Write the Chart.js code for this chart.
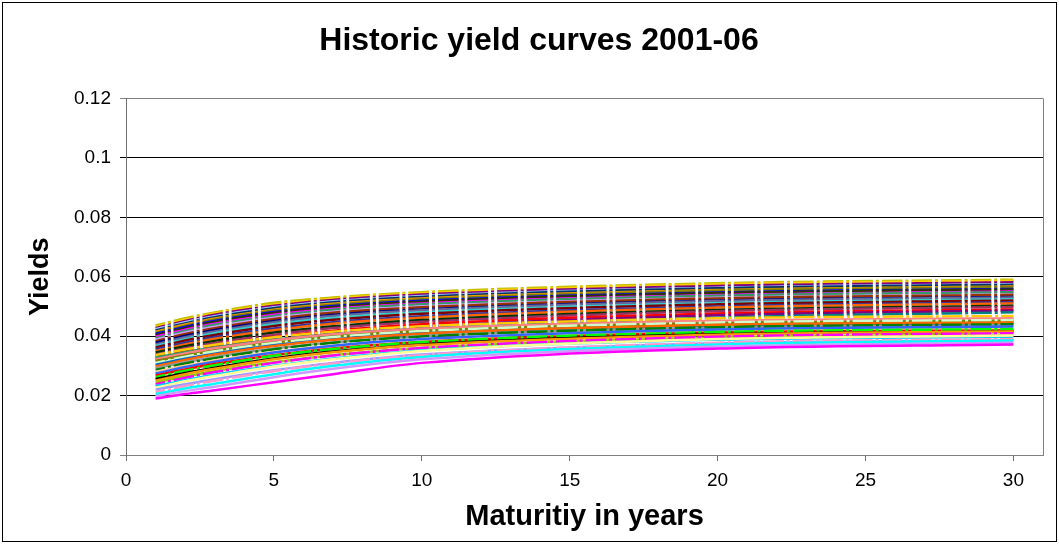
<!DOCTYPE html>
<html>
<head>
<meta charset="utf-8">
<title>Historic yield curves 2001-06</title>
<script src="https://cdn.jsdelivr.net/npm/chart.js@4.4.1/dist/chart.umd.min.js"></script>
<style>
  html, body { margin: 0; padding: 0; background: #fff; }
</style>
</head>
<body>
<canvas id="yieldChart" width="1059" height="544"></canvas>
<script>
// maturities (years) the curves are read at
var maturities = [1, 2, 3, 5, 7, 10, 20, 30];

// curves, one row per curve, lowest first
var yields2001 = [
  [0.0190, 0.0205, 0.0218, 0.0245, 0.0272, 0.0310, 0.0358, 0.0372],
  [0.0198, 0.0215, 0.0230, 0.0262, 0.0290, 0.0322, 0.0365, 0.0378],
  [0.0205, 0.0224, 0.0240, 0.0272, 0.0300, 0.0330, 0.0372, 0.0385],
  [0.0212, 0.0232, 0.0250, 0.0282, 0.0308, 0.0336, 0.0378, 0.0390],
  [0.0220, 0.0238, 0.0255, 0.0285, 0.0310, 0.0338, 0.0376, 0.0386],
  [0.0226, 0.0248, 0.0266, 0.0298, 0.0322, 0.0350, 0.0390, 0.0402],
  [0.0232, 0.0252, 0.0270, 0.0300, 0.0325, 0.0352, 0.0388, 0.0398],
  [0.0238, 0.0260, 0.0279, 0.0310, 0.0335, 0.0360, 0.0398, 0.0410]
];
var yields2002 = [
  [0.0244, 0.0264, 0.0282, 0.0312, 0.0336, 0.0360, 0.0395, 0.0405],
  [0.0250, 0.0272, 0.0290, 0.0322, 0.0346, 0.0370, 0.0405, 0.0416],
  [0.0256, 0.0276, 0.0294, 0.0325, 0.0348, 0.0372, 0.0406, 0.0415],
  [0.0262, 0.0284, 0.0302, 0.0334, 0.0357, 0.0380, 0.0414, 0.0424],
  [0.0268, 0.0288, 0.0306, 0.0336, 0.0358, 0.0380, 0.0412, 0.0420],
  [0.0274, 0.0296, 0.0314, 0.0345, 0.0368, 0.0390, 0.0422, 0.0432],
  [0.0280, 0.0300, 0.0318, 0.0347, 0.0368, 0.0390, 0.0420, 0.0428],
  [0.0286, 0.0308, 0.0326, 0.0356, 0.0378, 0.0399, 0.0430, 0.0440]
];
var yields2003 = [
  [0.0292, 0.0312, 0.0330, 0.0358, 0.0379, 0.0400, 0.0428, 0.0436],
  [0.0298, 0.0320, 0.0338, 0.0367, 0.0388, 0.0408, 0.0438, 0.0446],
  [0.0304, 0.0324, 0.0341, 0.0369, 0.0389, 0.0409, 0.0436, 0.0443],
  [0.0310, 0.0331, 0.0349, 0.0377, 0.0397, 0.0417, 0.0446, 0.0454],
  [0.0316, 0.0335, 0.0351, 0.0378, 0.0398, 0.0417, 0.0443, 0.0450],
  [0.0322, 0.0342, 0.0359, 0.0386, 0.0406, 0.0425, 0.0452, 0.0460],
  [0.0328, 0.0346, 0.0362, 0.0388, 0.0407, 0.0425, 0.0450, 0.0456],
  [0.0336, 0.0355, 0.0371, 0.0396, 0.0415, 0.0433, 0.0460, 0.0468]
];
var yields2004 = [
  [0.0318, 0.0336, 0.0352, 0.0378, 0.0400, 0.0422, 0.0462, 0.0480],
  [0.0325, 0.0344, 0.0361, 0.0388, 0.0410, 0.0432, 0.0470, 0.0486],
  [0.0332, 0.0352, 0.0369, 0.0397, 0.0418, 0.0440, 0.0476, 0.0490],
  [0.0338, 0.0359, 0.0377, 0.0405, 0.0427, 0.0448, 0.0484, 0.0498],
  [0.0345, 0.0366, 0.0384, 0.0412, 0.0433, 0.0454, 0.0488, 0.0502],
  [0.0350, 0.0372, 0.0391, 0.0420, 0.0442, 0.0462, 0.0496, 0.0510],
  [0.0356, 0.0378, 0.0397, 0.0426, 0.0447, 0.0467, 0.0500, 0.0514],
  [0.0362, 0.0385, 0.0404, 0.0434, 0.0455, 0.0475, 0.0507, 0.0520]
];
var yields2005 = [
  [0.0367, 0.0390, 0.0410, 0.0440, 0.0461, 0.0480, 0.0511, 0.0524],
  [0.0372, 0.0396, 0.0416, 0.0447, 0.0468, 0.0487, 0.0518, 0.0530],
  [0.0378, 0.0401, 0.0421, 0.0451, 0.0472, 0.0490, 0.0520, 0.0532],
  [0.0383, 0.0407, 0.0427, 0.0458, 0.0479, 0.0497, 0.0527, 0.0539],
  [0.0388, 0.0412, 0.0432, 0.0462, 0.0482, 0.0500, 0.0529, 0.0540],
  [0.0393, 0.0417, 0.0438, 0.0468, 0.0489, 0.0507, 0.0536, 0.0548],
  [0.0398, 0.0422, 0.0442, 0.0472, 0.0492, 0.0510, 0.0538, 0.0550],
  [0.0403, 0.0427, 0.0448, 0.0478, 0.0498, 0.0516, 0.0545, 0.0557]
];
var yields2006 = [
  [0.0407, 0.0431, 0.0451, 0.0481, 0.0501, 0.0519, 0.0547, 0.0559],
  [0.0411, 0.0435, 0.0456, 0.0486, 0.0506, 0.0524, 0.0553, 0.0565],
  [0.0415, 0.0439, 0.0459, 0.0489, 0.0509, 0.0527, 0.0555, 0.0567],
  [0.0419, 0.0443, 0.0464, 0.0494, 0.0514, 0.0532, 0.0561, 0.0573],
  [0.0423, 0.0447, 0.0467, 0.0497, 0.0517, 0.0535, 0.0563, 0.0575],
  [0.0427, 0.0451, 0.0472, 0.0502, 0.0522, 0.0540, 0.0569, 0.0581],
  [0.0431, 0.0455, 0.0476, 0.0506, 0.0526, 0.0544, 0.0574, 0.0586],
  [0.0436, 0.0460, 0.0480, 0.0512, 0.0530, 0.0548, 0.0578, 0.0590]
];

var xTicks = [0, 5, 10, 15, 20, 25, 30];
var yTicks = [0, 0.02, 0.04, 0.06, 0.08, 0.1, 0.12];

// excel-ish line colours
var lowColors = ['#FF00FF', '#CC99FF', '#00FFFF', '#FF99CC', '#9999FF', '#FFFF99', '#00CCFF', '#FF00FF',
                 '#99CC00', '#FF9900', '#000000', '#00FF00', '#FF0000', '#3366FF', '#FFCC99', '#008000',
                 '#969696', '#FF6600', '#0066CC', '#CCFFCC', '#808000', '#FF8080', '#339966', '#FFCC00'];
var highColors = ['#008080', '#800080', '#FF0000', '#993366', '#003300', '#FF6600', '#333399', '#800000',
                  '#33CCCC', '#666699', '#000080', '#993300', '#CC99FF', '#339966', '#FF00FF', '#333300',
                  '#0000FF', '#808000', '#FF9900', '#003366', '#99CCFF', '#800080', '#FFCC00', '#C0C000'];

// dash pattern repeats once per year of maturity (about 29.6 px)
var yearDash = [20.6, 3, 3, 3];

var groups = [yields2001, yields2002, yields2003, yields2004, yields2005, yields2006];
var datasets = [];
var lowN = 0, highN = 0;
for (var g = 0; g < groups.length; g++) {
  for (var c = 0; c < groups[g].length; c++) {
    var pts = [];
    for (var i = 0; i < maturities.length; i++) {
      pts.push({ x: maturities[i], y: groups[g][c][i] });
    }
    var color, dash;
    if (g >= 3) {
      color = highColors[highN++ % highColors.length];
      dash = yearDash;
    } else {
      color = lowColors[lowN % lowColors.length];
      dash = (lowN % 4 === 3) ? yearDash : [];
      lowN++;
    }
    datasets.push({
      label: String(2001 + g) + '-' + (c + 1),
      data: pts,
      borderColor: color,
      borderWidth: 2.5,
      borderDash: dash,
      borderDashOffset: 11,
      pointRadius: 0,
      fill: false,
      cubicInterpolationMode: 'monotone'
    });
  }
}

var frame = {
  id: 'frame',
  afterDraw: function (chart) {
    var ctx = chart.ctx, a = chart.chartArea;
    ctx.save();
    ctx.lineWidth = 1;
    ctx.strokeStyle = '#808080';
    ctx.beginPath();
    ctx.moveTo(Math.round(a.right) + 0.5, a.top);
    ctx.lineTo(Math.round(a.right) + 0.5, a.bottom);
    ctx.stroke();
    ctx.strokeStyle = '#000';
    ctx.strokeRect(2.5, 2.5, chart.width - 5, chart.height - 5);
    ctx.restore();
  }
};

var fontFam = '"Liberation Sans", Arial, Helvetica, sans-serif';

var myChart = new Chart(document.getElementById('yieldChart'), {
  type: 'line',
  data: { datasets: datasets },
  plugins: [frame],
  options: {
    responsive: false,
    animation: false,
    devicePixelRatio: 1,
    layout: { padding: { left: 35, right: 16, top: 8, bottom: 4 } },
    plugins: {
      legend: { display: false },
      tooltip: { enabled: false },
      title: {
        display: true,
        text: 'Historic yield curves 2001-06',
        color: '#000',
        font: { family: fontFam, size: 32, weight: 'bold' },
        padding: { top: 14, bottom: 38 }
      }
    },
    scales: {
      x: {
        type: 'linear',
        min: 0,
        max: 31,
        afterBuildTicks: function (scale) {
          scale.ticks = xTicks.map(function (v) { return { value: v }; });
        },
        afterFit: function (scale) { scale.height = 85; },
        ticks: {
          color: '#000',
          padding: 8,
          maxRotation: 0,
          font: { family: fontFam, size: 19 },
          callback: function (v) { return String(v); }
        },
        grid: { drawOnChartArea: false, tickLength: 6, color: '#707070' },
        border: { color: '#808080' },
        title: {
          display: true,
          text: 'Maturitiy in years',
          color: '#000',
          font: { family: fontFam, size: 29, weight: 'bold' },
          padding: { top: 0, bottom: 6 }
        }
      },
      y: {
        min: 0,
        max: 0.12,
        afterBuildTicks: function (scale) {
          scale.ticks = yTicks.map(function (v) { return { value: v }; });
        },
        afterFit: function (scale) { scale.width = 91; },
        ticks: {
          color: '#000',
          padding: 9,
          font: { family: fontFam, size: 19 },
          callback: function (v) { return String(v); }
        },
        grid: {
          tickLength: 6,
          color: function (ctx) {
            var v = ctx.tick ? ctx.tick.value : null;
            return (v === 0 || v === 0.12) ? '#808080' : '#000';
          }
        },
        border: { color: '#707070' },
        title: {
          display: true,
          text: 'Yields',
          color: '#000',
          font: { family: fontFam, size: 27, weight: 'bold' },
          padding: { top: -11, bottom: 0 }
        }
      }
    }
  }
});
</script>
</body>
</html>
